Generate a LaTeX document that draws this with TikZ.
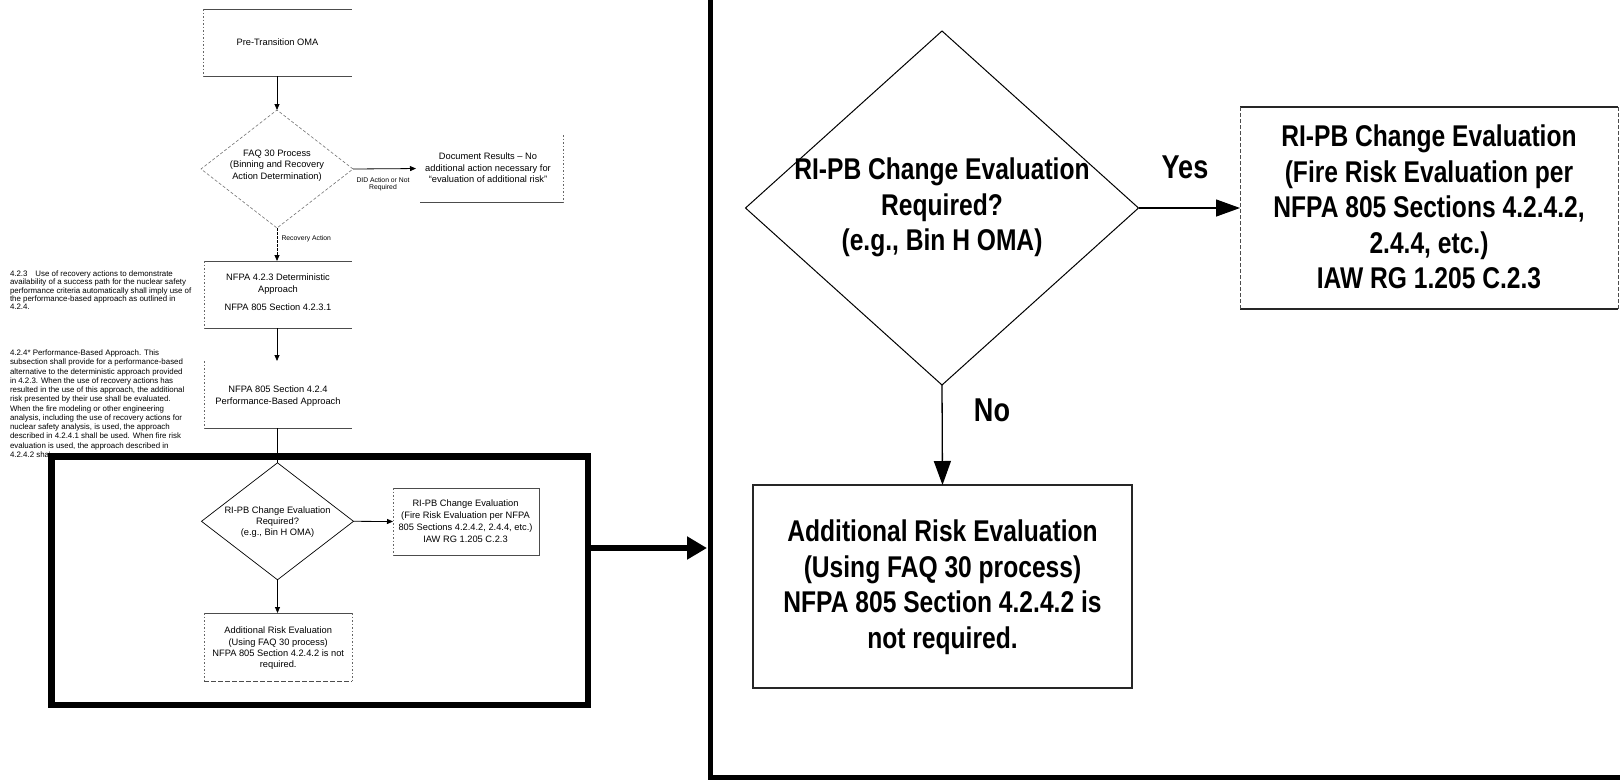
\documentclass[tikz,border=0pt]{standalone}
\usepackage{fontspec}
\setmainfont{Liberation Sans}
\newfontfamily\narrowfont[FakeStretch=0.82]{Liberation Sans}
\usetikzlibrary{shapes.geometric,arrows.meta}
\begin{document}
\begin{tikzpicture}[x=1pt,y=-1pt,
  every node/.style={inner sep=0pt,outer sep=0pt},
  bx/.style={rectangle,draw=none},
  small/.style={font=\fontsize{9.3}{11.4}\selectfont,align=center},
  tiny/.style={font=\fontsize{6.8}{7.2}\selectfont,align=center},
  para/.style={font=\fontsize{7.9}{8.2}\selectfont,align=left,anchor=north west},
  big/.style={font=\narrowfont\bfseries\fontsize{30}{35.5}\selectfont,align=center},
  lbl/.style={font=\narrowfont\bfseries\fontsize{33}{36}\selectfont},
  hl/.style={draw=black!70,line width=0.7pt},
  vl/.style={draw=black!60,line width=0.6pt,dash pattern=on 1.5pt off 2pt},
  sarr/.style={draw=black,line width=0.8pt,-{Triangle[length=6pt,width=5pt]}},
  sline/.style={draw=black,line width=0.8pt},
  barr/.style={draw=black,line width=1.3pt,-{Triangle[length=24pt,width=17pt]}},
  bhl/.style={draw=black!85,line width=1.1pt},
  bvl/.style={draw=black!70,line width=0.9pt,dash pattern=on 4pt off 2pt},
  thick frame/.style={draw=black,line width=6.5pt}
]
\useasboundingbox[fill=white] (0,0) rectangle (1620,780);

% ---------------- left panel ----------------
\node[bx,minimum width=149pt,minimum height=67pt,small] (pre) at (277.5,42.5) {Pre-Transition OMA};
\draw[hl] (pre.north west) -- (pre.north east);
\draw[hl] (pre.south west) -- (pre.south east);
\draw[vl] (pre.north west) -- (pre.south west);

\node[diamond,draw=black!55,line width=0.6pt,dash pattern=on 3pt off 2pt,minimum width=152pt,minimum height=118pt] (faq) at (277,169) {};
\node[small] (faqt) at (277,165.5) {FAQ 30 Process\\(Binning and Recovery\\Action Determination)};

\node[bx,minimum width=143pt,minimum height=67pt] (doc) at (491.5,168.5) {};
\node[small] (doct) at (488,168) {Document Results -- No\\additional action necessary for\\“evaluation of additional risk”};
\draw[hl] (doc.south west) -- (doc.south east);
\draw[vl] (doc.north east) -- (doc.south east);

\draw[sarr,shorten >=4pt] (faq.east) -- (doc.west);
\node[tiny] (did) at (383,184) {DID Action or Not\\Required};

\node[bx,minimum width=148pt,minimum height=67pt] (n423) at (278,294.5) {};
\node[small] (n423t) at (278,292.5) {NFPA 4.2.3 Deterministic\\Approach\\[7pt]NFPA 805 Section 4.2.3.1};
\draw[hl] (n423.north west) -- (n423.north east);
\draw[hl] (n423.south west) -- (n423.south east);
\draw[vl] (n423.north west) -- (n423.south west);

\draw[sarr] (pre.south -| faq.north) -- (faq.north);
\draw[sarr,dash pattern=on 3pt off 1pt] (faq.south) -- (faq.south |- n423.north);
\node[tiny,anchor=west] (ra) at (281.5,239) {Recovery Action};

\node[bx,minimum width=148pt,minimum height=67pt] (n424) at (278,394.5) {};
\node[small] (n424t) at (278,396) {NFPA 805 Section 4.2.4\\Performance-Based Approach};
\draw[hl] (n424.south west) -- (n424.south east);
\draw[vl] (n424.north west) -- (n424.south west);
\draw[sarr] (n423.south -| faq.south) -- (n424.north -| faq.south);

% paragraphs
\node[para] (p1) at (10,271) {4.2.3\quad Use of recovery actions to demonstrate\\
availability of a success path for the nuclear safety\\
performance criteria automatically shall imply use of\\
the performance-based approach as outlined in\\
4.2.4.};
\begin{scope}
\clip (0,340) -- (200,340) -- (200,450) -- (49,450) -- (49,470) -- (0,470) -- cycle;
\node[para,font=\fontsize{7.9}{9.25}\selectfont] (p2) at (10,350) {4.2.4* Performance-Based Approach. This\\
subsection shall provide for a performance-based\\
alternative to the deterministic approach provided\\
in 4.2.3. When the use of recovery actions has\\
resulted in the use of this approach, the additional\\
risk presented by their use shall be evaluated.\\
When the fire modeling or other engineering\\
analysis, including the use of recovery actions for\\
nuclear safety analysis, is used, the approach\\
described in 4.2.4.1 shall be used. When fire risk\\
evaluation is used, the approach described in\\
4.2.4.2 shall be used.};
\end{scope}

% framed part
\node[diamond,draw=black,line width=0.7pt,minimum width=152pt,minimum height=117pt] (rq) at (277.5,521.3) {};
\node[small] (rqt) at (277.5,522) {RI-PB Change Evaluation\\Required?\\(e.g., Bin H OMA)};
\draw[sline] (n424.south -| rq.north) -- (rq.north);

\node[bx,minimum width=146pt,minimum height=67pt] (rb) at (466,521.5) {};
\node[small,font=\fontsize{9.3}{12}\selectfont] (rbt) at (465.5,521.3) {RI-PB Change Evaluation\\(Fire Risk Evaluation per NFPA\\805 Sections 4.2.4.2, 2.4.4, etc.)\\IAW RG 1.205 C.2.3};
\draw[hl] (rb.north west) -- (rb.north east) -- (rb.south east) -- (rb.south west);
\draw[vl] (rb.north west) -- (rb.south west);
\draw[sarr] (rq.east) -- (rb.west);

\node[bx,minimum width=148pt,minimum height=68pt] (ab) at (278.2,647) {};
\node[small] (abt) at (278.2,648.3) {Additional Risk Evaluation\\(Using FAQ 30 process)\\NFPA 805 Section 4.2.4.2 is not\\required.};
\draw[hl] (ab.north west) -- (ab.north east);
\draw[vl] (ab.north west) -- (ab.south west);
\draw[vl] (ab.north east) -- (ab.south east);
\draw[hl,dash pattern=on 5pt off 2pt] (ab.south west) -- (ab.south east);
\draw[sarr] (rq.south) -- (rq.south |- ab.north);

\node[thick frame,minimum width=536.5pt,minimum height=248.3pt] (frame) at (319.75,580.85) {};

% big connector
\coordinate (bigtip) at (707,548);
\draw[line width=6pt,-{Triangle[length=20pt,width=22pt]}] (frame.east |- bigtip) -- (bigtip);

% ---------------- right panel ----------------
\draw[line width=5pt] (710.5,-5) -- (710.5,777) -- (1625,777);

\node[diamond,draw=black,line width=1pt,minimum width=393pt,minimum height=354pt] (Q) at (942,208) {};
\node[big] (Qt) at (942,207.5) {RI-PB Change Evaluation\\Required?\\(e.g., Bin H OMA)};

\node[bx,minimum width=378pt,minimum height=202pt] (R) at (1429,208) {};
\node[big] (Rt) at (1429,207) {RI-PB Change Evaluation\\(Fire Risk Evaluation per\\NFPA 805 Sections 4.2.4.2,\\2.4.4, etc.)\\IAW RG 1.205 C.2.3};
\draw[bhl] (R.north west) -- (R.north east);
\draw[bhl] (R.south west) -- (R.south east);
\draw[bvl] (R.north west) -- (R.south west);
\draw[bvl] (R.north east) -- (R.south east);

\node[lbl] (yes) at (1185,167) {Yes};
\draw[barr] (Q.east) -- (R.west);

\node[draw=black!85,line width=1.2pt,minimum width=379pt,minimum height=203pt] (A) at (942.5,586.5) {};
\node[big] (At) at (942.5,587) {Additional Risk Evaluation\\(Using FAQ 30 process)\\NFPA 805 Section 4.2.4.2 is\\not required.};

\node[lbl] (no) at (992,410) {No};
\draw[barr] (Q.south) -- (A.north);
\end{tikzpicture}
\end{document}
